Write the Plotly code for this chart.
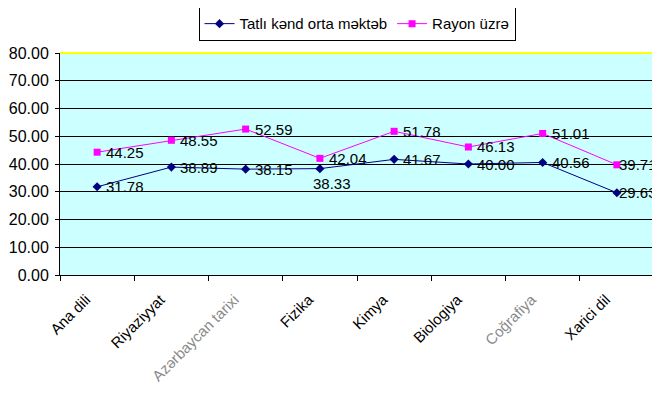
import plotly.graph_objects as go

categories = ["Ana dili", "Riyaziyyat", "Azərbaycan tarixi", "Fizika", "Kimya", "Biologiya", "Coğrafiya", "Xarici dil"]
tick_labels = ["Ana dili", "Riyaziyyat", "<span style='color:#8a8a8a'>Azərbaycan tarixi</span>", "Fizika", "Kimya",
               "Biologiya", "<span style='color:#8a8a8a'>Coğrafiya</span>", "Xarici dil"]
school = [31.78, 38.89, 38.15, 38.33, 41.67, 40.00, 40.56, 29.63]
region = [44.25, 48.55, 52.59, 42.04, 51.78, 46.13, 51.01, 39.71]
school_name = "Tatlı kənd orta məktəb"
region_name = "Rayon üzrə"

font = "Liberation Sans, Arial, sans-serif"

fig = go.Figure()
fig.add_trace(go.Scatter(
    x=categories, y=school, name=school_name, mode="lines+markers",
    line=dict(color="#000080", width=1), marker=dict(symbol="diamond", size=7, color="#000080"),
))
fig.add_trace(go.Scatter(
    x=categories, y=region, name=region_name, mode="lines+markers",
    line=dict(color="#FF00FF", width=1), marker=dict(symbol="square", size=7, color="#FF00FF"),
))

n = len(categories)
annotations = []
for i, (c, v) in enumerate(zip(categories, school)):
    if i == 3:
        annotations.append(dict(x=c, y=v, text=f"{v:.2f}", xanchor="center", yanchor="top",
                                xshift=12, yshift=-5, showarrow=False))
    else:
        annotations.append(dict(x=c, y=v, text=f"{v:.2f}", xanchor="left", yanchor="middle",
                                xshift=(1 if i == n - 1 else 8), yshift=0, showarrow=False))
for i, (c, v) in enumerate(zip(categories, region)):
    annotations.append(dict(x=c, y=v, text=f"{v:.2f}", xanchor="left", yanchor="middle",
                            xshift=(1 if i == n - 1 else 8), yshift=0, showarrow=False))
for a in annotations:
    a["font"] = dict(family=font, size=15, color="#000000")
    a["borderpad"] = 0

fig.update_layout(
    width=652, height=385,
    margin=dict(l=52, r=6, t=45, b=118, autoexpand=False),
    paper_bgcolor="white", plot_bgcolor="#CCFFFF",
    font=dict(family=font, size=13, color="#000000"),
    showlegend=True,
    legend=dict(orientation="h", x=0.50, y=1.21, xanchor="center", yanchor="top",
                bordercolor="#000000", borderwidth=1, bgcolor="white",
                font=dict(family=font, size=15), itemwidth=30, tracegroupgap=0),
    annotations=annotations,
    xaxis=dict(
        tickmode="array", tickvals=categories, ticktext=tick_labels, tickangle=-45,
        tickson="boundaries", ticks="outside", ticklen=5, tickcolor="#000000",
        ticklabelshift=-11, ticklabelstandoff=9,
        showline=True, linecolor="#000000", linewidth=1, showgrid=False, automargin=False,
        tickfont=dict(family=font, size=15), range=[-0.5, 7.5],
    ),
    yaxis=dict(
        range=[0, 80], dtick=10, tickformat=".2f", ticks="outside", ticklen=4, tickcolor="#000000",
        showline=True, linecolor="#000000", linewidth=1, automargin=False, ticklabelstandoff=3,
        showgrid=True, gridcolor="#000000", gridwidth=1, zeroline=False,
        tickfont=dict(family=font, size=16),
    ),
    shapes=[
        dict(type="line", xref="paper", yref="paper", x0=0, x1=1, y0=1, y1=1, line=dict(color="#FFFF00", width=2)),
        dict(type="line", xref="paper", yref="paper", x0=1, x1=1, y0=0, y1=1, line=dict(color="#FFFF00", width=2)),
    ],
)

fig.write_html("out.html")
